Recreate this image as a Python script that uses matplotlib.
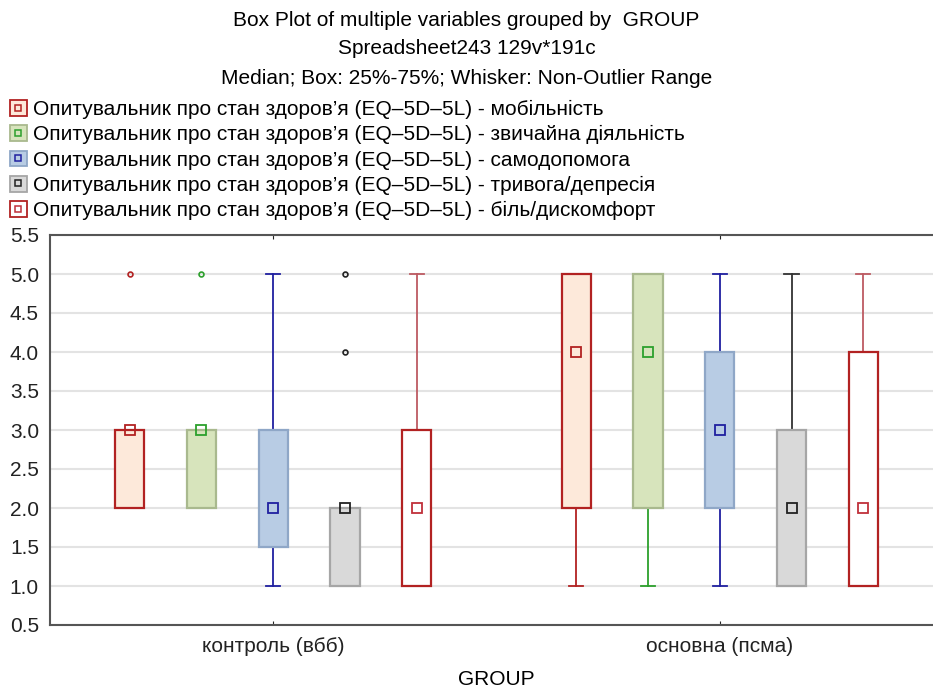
import matplotlib
matplotlib.use("Agg")
import matplotlib.pyplot as plt
from matplotlib.patches import Patch
from matplotlib.lines import Line2D

plt.rcParams['font.family'] = ['Liberation Sans', 'DejaVu Sans']

# групи та змінні
groups = ["контроль (вбб)", "основна (псма)"]
prefix = "Опитувальник про стан здоров’я (EQ–5D–5L) - "
variables = ["мобільність", "звичайна діяльність", "самодопомога",
             "тривога/депресія", "біль/дискомфорт"]

# статистики: [контроль, основна]
medians = [[3, 4], [3, 4], [2, 3], [2, 2], [2, 2]]
q1 = [[2, 2], [2, 2], [1.5, 2], [1, 1], [1, 1]]
q3 = [[3, 5], [3, 5], [3, 4], [2, 3], [3, 4]]
whis_lo = [[2, 1], [2, 1], [1, 1], [1, 1], [1, 1]]
whis_hi = [[3, 5], [3, 5], [5, 5], [2, 5], [5, 5]]
outliers = [[[5], []], [[5], []], [[], []], [[4, 5], []], [[], []]]

# кольори
fills = ["#FDE9DA", "#D7E4BC", "#B8CCE4", "#D9D9D9", "#FFFFFF"]
edges = ["#B22222", "#A9B98E", "#8FA7C7", "#A6A6A6", "#B22222"]
lines = ["#B22222", "#2CA02C", "#2020A0", "#333333", "#BD5A62"]
marks = ["#B22222", "#2CA02C", "#2020A0", "#222222", "#C0303A"]

FS = 15

fig = plt.figure(figsize=(9.33, 6.9), dpi=100)
ax = fig.add_axes([50 / 933, 1 - 625 / 690, 893 / 933, 390 / 690])

step = 0.1607
for v in range(len(variables)):
    stats = []
    pos = []
    for g in range(len(groups)):
        stats.append(dict(med=medians[v][g], q1=q1[v][g], q3=q3[v][g],
                          whislo=whis_lo[v][g], whishi=whis_hi[v][g],
                          mean=medians[v][g], fliers=outliers[v][g]))
        pos.append(g + 1 + (v - 2) * step)
    art = ax.bxp(stats, positions=pos, widths=0.065, patch_artist=True,
                 showmeans=True, capwidths=0.032,
                 boxprops=dict(facecolor=fills[v], edgecolor=edges[v], linewidth=1.6),
                 whiskerprops=dict(color=lines[v], linewidth=1.3),
                 capprops=dict(color=lines[v], linewidth=1.3),
                 medianprops=dict(linestyle="none"),
                 meanprops=dict(marker="s", markersize=7.5, markerfacecolor="none",
                                markeredgecolor=marks[v], markeredgewidth=1.3),
                 flierprops=dict(marker="o", markersize=3.5, markerfacecolor="none",
                                 markeredgecolor=marks[v], markeredgewidth=1.2),
                 manage_ticks=False, zorder=3)
    for a in art["caps"] + art["whiskers"]:
        a.set_zorder(2.5)

ax.set_xlim(0.5, 2.5)
ax.set_ylim(0.5, 5.5)
ax.set_yticks([0.5 + 0.5 * i for i in range(11)])
ax.set_yticklabels(["%.1f" % (0.5 + 0.5 * i) for i in range(11)])
ax.set_xticks([1, 2])
ax.set_xticklabels(groups)
ax.tick_params(axis="both", labelsize=FS, colors="#222222", length=3,
               direction="in", top=True, labeltop=False)
ax.tick_params(axis="x", pad=9)
ax.tick_params(axis="y", length=0, pad=8)
ax.yaxis.grid(True, color="#E3E3E3", linewidth=1.5, zorder=0)
ax.set_axisbelow(True)
for s in ["left", "top", "bottom"]:
    ax.spines[s].set_color("#555555")
    ax.spines[s].set_linewidth(1.5)
ax.spines["right"].set_visible(False)
ax.set_xlabel("GROUP", fontsize=FS, labelpad=10)

fig.text(0.5, 1 - 20 / 690, "Box Plot of multiple variables grouped by  GROUP",
         ha="center", va="center", fontsize=FS)
fig.text(0.5, 1 - 49 / 690, "Spreadsheet243 129v*191c",
         ha="center", va="center", fontsize=FS)
fig.text(0.5, 1 - 79 / 690, "Median; Box: 25%-75%; Whisker: Non-Outlier Range",
         ha="center", va="center", fontsize=FS)

handles = []
for v in range(len(variables)):
    p = Patch(facecolor=fills[v], edgecolor=edges[v], linewidth=1.3)
    m = Line2D([], [], linestyle="none", marker="s", markersize=5,
               markerfacecolor="none", markeredgecolor=marks[v], markeredgewidth=1.1)
    handles.append((p, m))
fig.legend(handles, [prefix + n for n in variables], loc="upper left",
           bbox_to_anchor=(10 / 933, 1 - 100 / 690), frameon=False, fontsize=FS,
           handlelength=0.8, handleheight=0.8, handletextpad=0.3,
           labelspacing=0.29, borderaxespad=0, borderpad=0)

fig.savefig("out.png", dpi=100)
